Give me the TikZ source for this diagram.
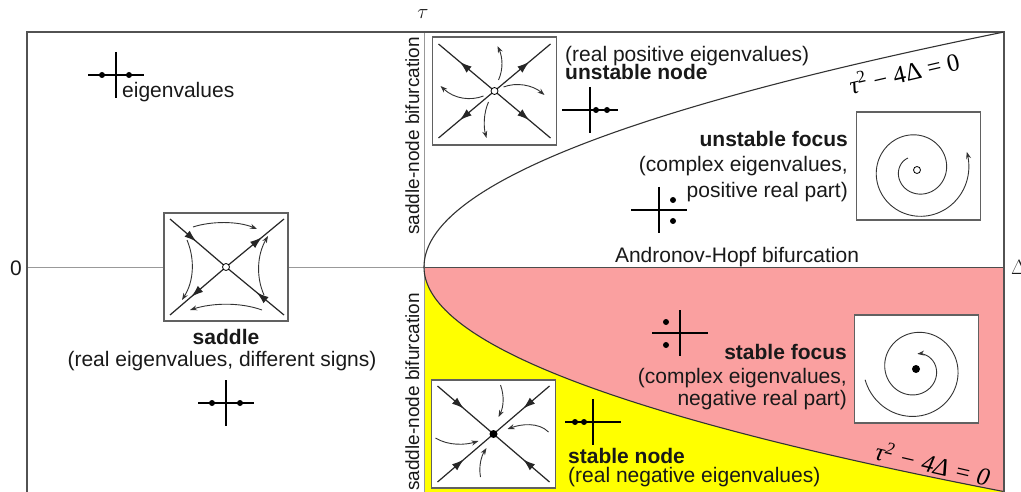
\documentclass[tikz,border=0pt]{standalone}
\usepackage{fontspec}
\setmainfont{Liberation Sans}
\newfontfamily\eqfont{Liberation Serif}
\usetikzlibrary{arrows.meta,decorations.markings,calc}
\definecolor{pinkfill}{RGB}{250,160,160}
\definecolor{yelfill}{RGB}{255,255,0}
\begin{document}
\begin{tikzpicture}[x=1pt,y=-1pt,
  frame/.style={draw=black!68, line width=1.4pt},
  axisline/.style={draw=black!40, line width=1pt},
  curveline/.style={draw=black!80, line width=1.1pt},
  phasebox/.style={draw=black!62, line width=1.9pt, fill=white, minimum width=124pt, minimum height=108pt, inner sep=0pt},
  eig/.style={draw=black, line width=1.3pt},
  diagin/.style={draw=black!85, line width=1.2pt, decoration={markings, mark=at position 0.47 with {\arrow{Latex[length=12pt,width=8pt]}}}, postaction={decorate}},
  diagout/.style={draw=black!85, line width=1.2pt, decoration={markings, mark=at position 0.62 with {\arrow{Latex[length=12pt,width=8pt]}}}, postaction={decorate}},
  traj/.style={draw=black!80, line width=0.9pt, -{Stealth[length=7pt,width=5pt]}},
  opendot/.style={circle, draw=black, fill=white, line width=0.8pt, minimum size=7pt, inner sep=0pt},
  filldot/.style={circle, fill=black, minimum size=8pt, inner sep=0pt},
  eigdot/.style={circle, fill=black, minimum size=6pt, inner sep=0pt},
  lbl/.style={font=\fontsize{21}{24}\selectfont, inner sep=0pt, text=black!90},
  vlbl/.style={font=\fontsize{19}{22}\selectfont, inner sep=0pt, rotate=90, anchor=base, text=black!90},
  eqlbl/.style={font=\eqfont\fontsize{25}{27}\selectfont, inner sep=0pt},
  eigaxes/.pic={\draw[eig] (-28,0) -- (28,0); \draw[eig] (0,-23) -- (0,23);}
]
\useasboundingbox (0,0) rectangle (1021,492);
\clip (0,0) rectangle (1021,492);

% key coordinates
\coordinate (origin) at (424,267);
\coordinate (fTL) at (27,32);
\coordinate (fTR) at (1004,32);
\coordinate (fBL) at (27,500);
\coordinate (fBR) at (1004,500);
\coordinate (axL) at (27,267);
\coordinate (axR) at (1004,267);
\coordinate (tauTop) at (424,32);
\coordinate (tauBot) at (424,500);

% coloured regions
\fill[pinkfill] (origin) -- (axR) -- (1004,491.6) -- plot[domain=0.9557:0, samples=60] ({424+635*\x*\x},{267+235*\x}) -- cycle;
\fill[yelfill] plot[domain=0:0.9557, samples=60] ({424+635*\x*\x},{267+235*\x}) -- (fBR) -- (tauBot) -- cycle;

% axes and frame
\draw[axisline] (axL) -- (origin);
\draw[draw=black!70, line width=1pt] (origin) -- (axR);
\draw[axisline] (tauTop) -- (tauBot);
\draw[frame] (fBL) -- (fTL) -- (fTR) -- (fBR);

% parabola
\draw[curveline] plot[domain=0:1, samples=80] ({424+580*\x*\x},{267-235*\x});
\draw[curveline] plot[domain=0:0.9557, samples=80] ({424+635*\x*\x},{267+235*\x});

% axis labels
\node[lbl] (tau) at (423,14) {$\tau$};
\node[lbl] (zero) at (16,268) {0};
\node[lbl, anchor=west] (delta) at (1011,267) {$\Delta$};

% phase portrait boxes
\node[phasebox] (unbox) at (494.5,91) {};
\node[phasebox] (sabox) at (226,267) {};
\node[phasebox] (ufbox) at (918.5,166) {};
\node[phasebox] (sfbox) at (916.5,369) {};
\node[phasebox] (snbox) at (493.5,434) {};

% unstable node
\begin{scope}[shift={(unbox.center)}]
  \draw[diagout] (0,0) -- (-56,-47);
  \draw[diagout] (0,0) -- (56,-47);
  \draw[diagout] (0,0) -- (-56,47);
  \draw[diagout] (0,0) -- (56,47);
  \draw[traj] (4,-11) .. controls (9,-22) and (8,-34) .. (3,-45);
  \draw[traj] (9,-4) .. controls (22,-9) and (38,-6) .. (50,4);
  \draw[traj] (-11,5) .. controls (-24,10) and (-40,8) .. (-54,-5);
  \draw[traj] (-6,11) .. controls (-11,22) and (-11,36) .. (-8,47);
  \node[opendot] (uncenter) at (0,0) {};
\end{scope}

% saddle
\begin{scope}[shift={(sabox.center)}]
  \draw[diagin] (-56,-48) -- (0,0);
  \draw[diagin] (58,48) -- (0,0);
  \draw[diagout] (0,0) -- (58,-48);
  \draw[diagout] (0,0) -- (-56,48);
  \draw[traj] (-33,-40) .. controls (-15,-46) and (12,-46) .. (31,-38);
  \draw[traj] (38,28) .. controls (30,10) and (31,-12) .. (42,-31);
  \draw[traj] (36,43) .. controls (14,35) and (-14,36) .. (-36,43);
  \draw[traj] (-39,-27) .. controls (-31,-8) and (-32,14) .. (-44,33);
  \node[opendot] (sacenter) at (0,0) {};
\end{scope}

% stable node
\begin{scope}[shift={(snbox.center)}]
  \draw[diagin] (-56,-48) -- (0,0);
  \draw[diagin] (56,-48) -- (0,0);
  \draw[diagin] (-56,48) -- (0,0);
  \draw[diagin] (56,48) -- (0,0);
  \draw[traj] (7,-49) .. controls (11,-38) and (10,-27) .. (5,-17);
  \draw[traj] (55,-2) .. controls (45,-12) and (28,-10) .. (14,-5);
  \draw[traj] (-58,4) .. controls (-45,12) and (-28,11) .. (-15,7);
  \draw[traj] (-13,43) .. controls (-15,32) and (-12,22) .. (-7,14);
  \node[filldot] (sncenter) at (0,0) {};
\end{scope}

% unstable focus spiral
\draw[traj] plot[domain=127:740, samples=160, smooth] ({917+(15+(\x-127)*0.062)*cos(\x)},{170-(15+(\x-127)*0.062)*sin(\x)});
\node[opendot] (ufcenter) at (917,170) {};

% stable focus spiral
\draw[traj] plot[domain=192:805, samples=160, smooth] ({916+(52-(\x-192)*0.06)*cos(\x)},{369-(52-(\x-192)*0.06)*sin(\x)});
\node[filldot] (sfcenter) at (916,369) {};

% eigenvalue sketches
\pic (ecA) at (116,75) {eigaxes};
\node[eigdot] (ecAa) at (102,75) {};
\node[eigdot] (ecAb) at (129,75) {};

\pic (ecS) at (226,403) {eigaxes};
\node[eigdot] (ecSa) at (212,403) {};
\node[eigdot] (ecSb) at (240,403) {};

\pic (ecUN) at (590,110) {eigaxes};
\node[eigdot] (ecUNa) at (596,110) {};
\node[eigdot] (ecUNb) at (607,110) {};

\pic (ecUF) at (659,210) {eigaxes};
\node[eigdot] (ecUFa) at (673,200) {};
\node[eigdot] (ecUFb) at (673,221) {};

\pic (ecSF) at (680,333) {eigaxes};
\node[eigdot] (ecSFa) at (666,322) {};
\node[eigdot] (ecSFb) at (666,345) {};

\pic (ecSN) at (593,422) {eigaxes};
\node[eigdot] (ecSNa) at (575,422) {};
\node[eigdot] (ecSNb) at (584,422) {};

% labels
\node[lbl, anchor=base west] (eiglbl) at (122,98) {eigenvalues};
\node[lbl, anchor=base] (saname) at (226,344) {\bfseries saddle};
\node[lbl, anchor=base] (sadesc) at (222,366) {(real eigenvalues, different signs)};
\node[lbl, anchor=base west] (undesc) at (565,62) {(real positive eigenvalues)};
\node[lbl, anchor=base west] (unname) at (565,80) {\bfseries unstable node};
\node[lbl, anchor=base east] (ufname) at (848,147) {\bfseries unstable focus};
\node[lbl, anchor=base east] (ufdescA) at (848,172) {(complex eigenvalues,};
\node[lbl, anchor=base east] (ufdescB) at (848,197) {positive real part)};
\node[lbl, anchor=base] (hopf) at (737,262) {Andronov-Hopf bifurcation};
\node[lbl, anchor=base east] (sfname) at (847,359) {\bfseries stable focus};
\node[lbl, anchor=base east] (sfdescA) at (847,383) {(complex eigenvalues,};
\node[lbl, anchor=base east] (sfdescB) at (847,405) {negative real part)};
\node[lbl, anchor=base west] (snname) at (568,463) {\bfseries stable node};
\node[lbl, anchor=base west] (sndesc) at (568,482) {(real negative eigenvalues)};
\node[vlbl] (snbifA) at (419,136) {saddle-node bifurcation};
\node[vlbl] (snbifB) at (419,392) {saddle-node bifurcation};
\node[eqlbl, rotate=13] (eqtop) at (904,72) {{\itshape τ}\textsuperscript{2} − 4Δ = 0};
\node[eqlbl, rotate=-13] (eqbot) at (933,463) {\itshape τ\textsuperscript{2} − 4Δ = 0};
\end{tikzpicture}
\end{document}
